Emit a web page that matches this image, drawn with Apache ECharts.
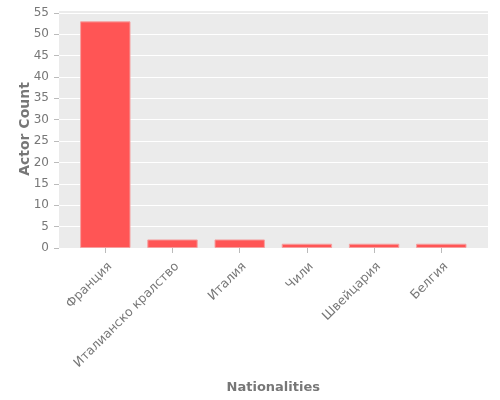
<!DOCTYPE html>
<html lang="en">
<head>
    <meta charset="utf-8">
    <title>Actor Count by Nationality</title>
    <script src="https://cdn.jsdelivr.net/npm/echarts@6/dist/echarts.min.js"></script>
    <style>
        html, body { margin: 0; padding: 0; background: #fff; }
        #main { width: 500px; height: 400px; }
    </style>
</head>
<body>
<div id="main"></div>
<script type="text/javascript">
    // data
    var categories = ['Франция', 'Италианско кралство', 'Италия', 'Чили', 'Швейцария', 'Белгия'];
    var actorCounts = [53, 2, 2, 1, 1, 1];
    var yTicks = [0, 5, 10, 15, 20, 25, 30, 35, 40, 45, 50, 55];

    var chart = echarts.init(document.getElementById('main'), null, {renderer: 'canvas'});

    var font = 'DejaVu Sans';
    var yMax = 55.65;

    var option = {
        animation: false,
        grid: [
            // full grey panel, carries the y axis and grid lines
            {left: 59, right: 12, top: 10, bottom: 152, show: true, backgroundColor: '#EBEBEB', borderWidth: 0},
            // inner band area, so the outer bars keep the wider side margins
            {left: 71.7, right: 25.1, top: 10, bottom: 152}
        ],
        xAxis: [
            {gridIndex: 0, type: 'value', min: 0, max: 1, show: false},
            {
                gridIndex: 1,
                type: 'category',
                data: categories,
                name: 'Nationalities',
                nameLocation: 'middle',
                nameGap: 133,
                nameTextStyle: {color: '#777', fontSize: 13, fontWeight: 'bold', fontFamily: font},
                axisLine: {show: false},
                axisTick: {show: true, alignWithLabel: true, length: 5, lineStyle: {color: '#bbb'}},
                axisLabel: {
                    interval: 0,
                    rotate: 45,
                    margin: 12,
                    verticalAlign: 'top',
                    color: '#777',
                    fontSize: 12.5,
                    fontFamily: font
                }
            }
        ],
        yAxis: [
            {
                gridIndex: 0,
                type: 'value',
                min: 0,
                max: yMax,
                interval: 5,
                name: 'Actor Count',
                nameLocation: 'middle',
                nameGap: 27,
                nameMoveOverlap: false,
                nameTextStyle: {color: '#777', fontSize: 14, fontWeight: 'bold', fontFamily: font},
                axisLine: {show: false},
                axisTick: {show: true, length: 5, lineStyle: {color: '#bbb'}},
                axisLabel: {
                    margin: 10,
                    color: '#777',
                    fontSize: 12,
                    fontFamily: font,
                    showMaxLabel: false
                },
                splitLine: {show: true, lineStyle: {color: '#fff', width: 1}}
            },
            {gridIndex: 1, type: 'value', min: 0, max: yMax, show: false, splitLine: {show: false}}
        ],
        series: [{
            type: 'bar',
            xAxisIndex: 1,
            yAxisIndex: 1,
            barWidth: '75%',
            data: actorCounts,
            itemStyle: {color: '#FF5555', borderColor: '#F5A0A0', borderWidth: 1}
        }]
    };
    chart.setOption(option);
</script>
</body>
</html>
